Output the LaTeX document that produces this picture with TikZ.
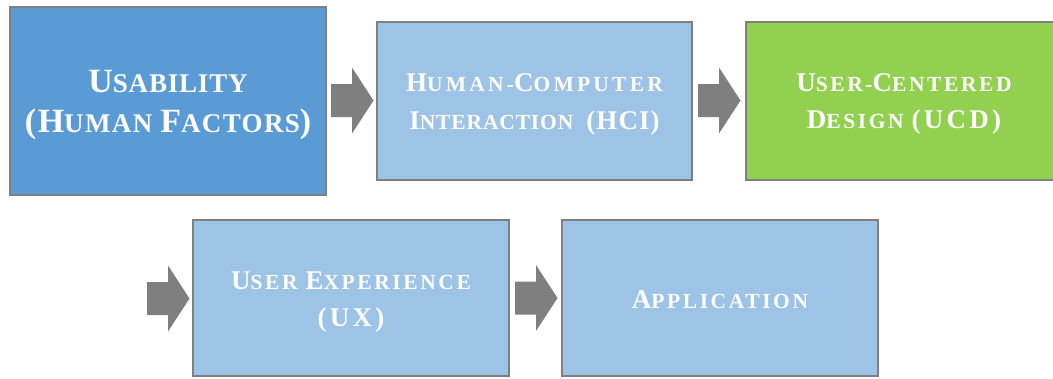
\documentclass[tikz,border=0pt]{standalone}
\usepackage{fontspec}
\setmainfont{Liberation Serif}
\newfontfamily\tightsc[LetterSpace=3]{Liberation Serif}
\newfontfamily\widesc[LetterSpace=12]{Liberation Serif}
\definecolor{boxdark}{HTML}{5B9BD5}
\definecolor{boxlight}{HTML}{9DC3E6}
\definecolor{boxgreen}{HTML}{92D050}
\definecolor{bordergray}{HTML}{7F7F7F}
\definecolor{arrowgray}{HTML}{7F7F7F}
\newcommand\setsc[3]{\gdef\bigsz{#1}\gdef\smsz{#2}\gdef\lnsk{#3}\fontsize{#2}{#3}\selectfont\bfseries}
\newcommand\Bg[1]{{\fontsize{\bigsz}{\lnsk}\selectfont #1}}
\tikzset{
  stagebox/.style={draw=bordergray, line width=1.6pt, inner sep=0pt},
  boxtext/.style={text=white, align=center, inner sep=0pt},
  blockarrow/.pic={\fill[arrowgray] (0,-16.5) -- (21,-16.5) -- (21,-33) -- (42.5,0)
     -- (21,33) -- (21,16.5) -- (0,16.5) -- cycle;}
}
\begin{document}
\begin{tikzpicture}[x=1pt,y=-1pt]
\useasboundingbox (0,0) rectangle (1053,378);
\node[stagebox, fill=boxdark, minimum width=316pt, minimum height=188pt] (usab) at (168,101) {};
\node[stagebox, fill=boxlight, minimum width=315pt, minimum height=158pt] (hci) at (534.5,101) {};
\node[stagebox, fill=boxgreen, minimum width=316pt, minimum height=158pt] (ucd) at (904,101) {};
\node[stagebox, fill=boxlight, minimum width=316pt, minimum height=156pt] (ux) at (351,298) {};
\node[stagebox, fill=boxlight, minimum width=316pt, minimum height=156pt] (app) at (720,298) {};
\node[boxtext, font={\tightsc\setsc{34}{27}{40pt}}] (usab-t) at ([yshift=-4pt]usab.center)
  {\Bg{U}SABILITY\\{\addfontfeature{LetterSpace=5}\Bg{(H}UMAN \Bg{F}ACTORS\Bg{)}}};
\node[boxtext, font={\setsc{27}{21.5}{38pt}}] (hci-t) at ([yshift=-3pt]hci.center)
  {{\addfontfeature{LetterSpace=15}\Bg{H}UMAN-\Bg{C}OMPUTER}\\
   {\addfontfeature{LetterSpace=4}\Bg{I}NTERACTION\hspace{13pt}\Bg{(HCI)}}};
\node[boxtext, font={\widesc\setsc{27}{21.5}{37pt}}] (ucd-t) at ([yshift=-3pt]ucd.center)
  {\Bg{U}SER-\Bg{C}ENTERED\\\Bg{D}ESIGN \Bg{(UCD)}};
\node[boxtext, font={\widesc\setsc{27}{21.5}{37pt}}] (ux-t) at ([yshift=-4pt]ux.center)
  {\Bg{U}SER \Bg{E}XPERIENCE\\\Bg{(UX)}};
\node[boxtext, font={\widesc\setsc{27}{21.5}{37pt}}] (app-t) at ([yshift=-2pt]app.center)
  {\Bg{A}PPLICATION};
\pic at (331,100.5) {blockarrow};
\pic at (698,100.5) {blockarrow};
\pic at (147,298.5) {blockarrow};
\pic at (515,298) {blockarrow};
\end{tikzpicture}
\end{document}
